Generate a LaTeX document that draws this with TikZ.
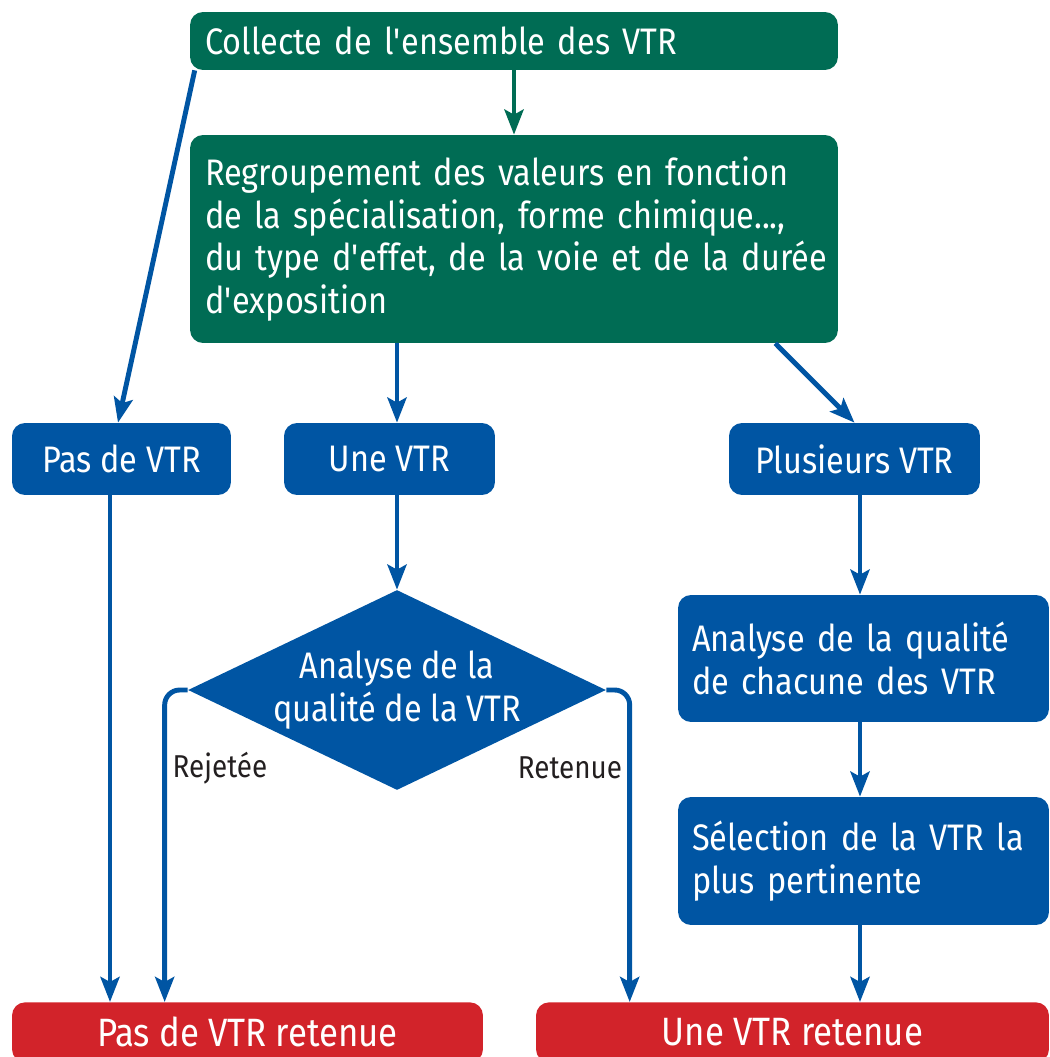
\documentclass[tikz,border=0pt]{standalone}
\usepackage{fontspec}
\setmainfont[FakeStretch=0.88]{Fira Sans}
\usepackage{tikz}
\usetikzlibrary{shapes.geometric,arrows.meta,positioning}
\definecolor{vtrgreen}{HTML}{006C54}
\definecolor{vtrblue}{HTML}{0055A3}
\definecolor{vtrred}{HTML}{D2232A}
\definecolor{vtrtext}{HTML}{231F20}

\begin{document}
\begin{tikzpicture}
[x=0.02cm,y=-0.02cm,
 every node/.style={font=\fontsize{21}{24.4}\selectfont,text=white},
 greenbox/.style={rectangle,rounded corners=0.26cm,fill=vtrgreen,align=left,inner xsep=0.3cm},
 bluebox/.style={rectangle,rounded corners=0.26cm,fill=vtrblue,align=left,inner xsep=0.28cm},
 redbox/.style={rectangle,rounded corners=0.26cm,fill=vtrred,align=center,font=\fontsize{22.5}{26}\selectfont},
 choice/.style={diamond,fill=vtrblue,align=center,inner sep=-0.3cm,aspect=2.09},
 tag/.style={font=\fontsize{18}{21}\selectfont,text=vtrtext},
 blueline/.style={draw=vtrblue,line width=2.8pt,-{Stealth[length=0.5cm,width=0.38cm,inset=0.1cm]}},
 greenline/.style={blueline,draw=vtrgreen}]
   \useasboundingbox (0,0) rectangle (1049,1057);
   \node[greenbox,minimum width=12.96cm,minimum height=1.16cm,text width=12.36cm] (collect) at (514,41) {Collecte de l\textquotesingle ensemble des VTR};
   \node[greenbox,minimum width=12.96cm,minimum height=4.16cm,text width=12.36cm] (regroup) at (514,239)
     {Regroupement des valeurs en fonction\\de la spécialisation, forme chimique...,\\\mbox{du type d\textquotesingle effet, de la voie et de la durée}\\d\textquotesingle exposition};
   \node[bluebox,minimum width=4.38cm,minimum height=1.44cm,align=center] (pasvtr) at (121.5,459) {Pas de VTR};
   \node[bluebox,minimum width=4.22cm,minimum height=1.44cm,align=center] (unevtr) at (389.5,459) {Une VTR};
   \node[bluebox,minimum width=5.02cm,minimum height=1.44cm,align=center] (plus) at (854.5,459) {Plusieurs VTR};
   \node[choice,minimum width=8.36cm,minimum height=4cm] (dia) at (397,690) {Analyse de la\\qualité de la VTR};
   \node[bluebox,minimum width=7.42cm,minimum height=2.54cm,text width=6.86cm] (ana) at (863.5,658.5)
     {Analyse de la qualité\\de chacune des VTR};
   \node[bluebox,minimum width=7.42cm,minimum height=2.56cm,text width=6.86cm] (sel) at (863.5,861)
     {Sélection de la VTR la\\plus pertinente};
   \node[redbox,minimum width=9.42cm,minimum height=1.2cm,anchor=north] (pasret) at (247.5,1002) {Pas de VTR retenue};
   \node[redbox,minimum width=10.26cm,minimum height=1.2cm,anchor=north] (uneret) at (792.5,1002) {Une VTR retenue};
   \node[tag] (rej) at (220,768) {Rejetée};
   \node[tag] (ret) at (570,768) {Retenue};
   \coordinate (rx) at (860,0);
   \draw[greenline] (collect.south) -- (regroup.north);
   \draw[blueline] ([xshift=0.1cm]collect.south west) -- ([xshift=-0.07cm]pasvtr.north);
   \draw[blueline] (regroup.south -| dia.north) -- (unevtr.north -| dia.north);
   \draw[blueline] ([xshift=-1.26cm]regroup.south east) -- (plus.north);
   \draw[blueline] ([xshift=-0.23cm]pasvtr.south) -- ([xshift=-0.23cm]pasvtr.south |- pasret.north);
   \draw[blueline] (unevtr.south -| dia.north) -- (dia.north);
   \draw[blueline,rounded corners=0.3cm] (dia.west) -| ([xshift=3.06cm]pasret.north west);
   \draw[blueline,rounded corners=0.3cm] (dia.east) -| ([xshift=1.88cm]uneret.north west);
   \draw[blueline] (plus.south -| rx) -- (ana.north -| rx);
   \draw[blueline] (ana.south -| rx) -- (sel.north -| rx);
   \draw[blueline] (sel.south -| rx) -- (uneret.north -| rx);
\end{tikzpicture}
\end{document}
